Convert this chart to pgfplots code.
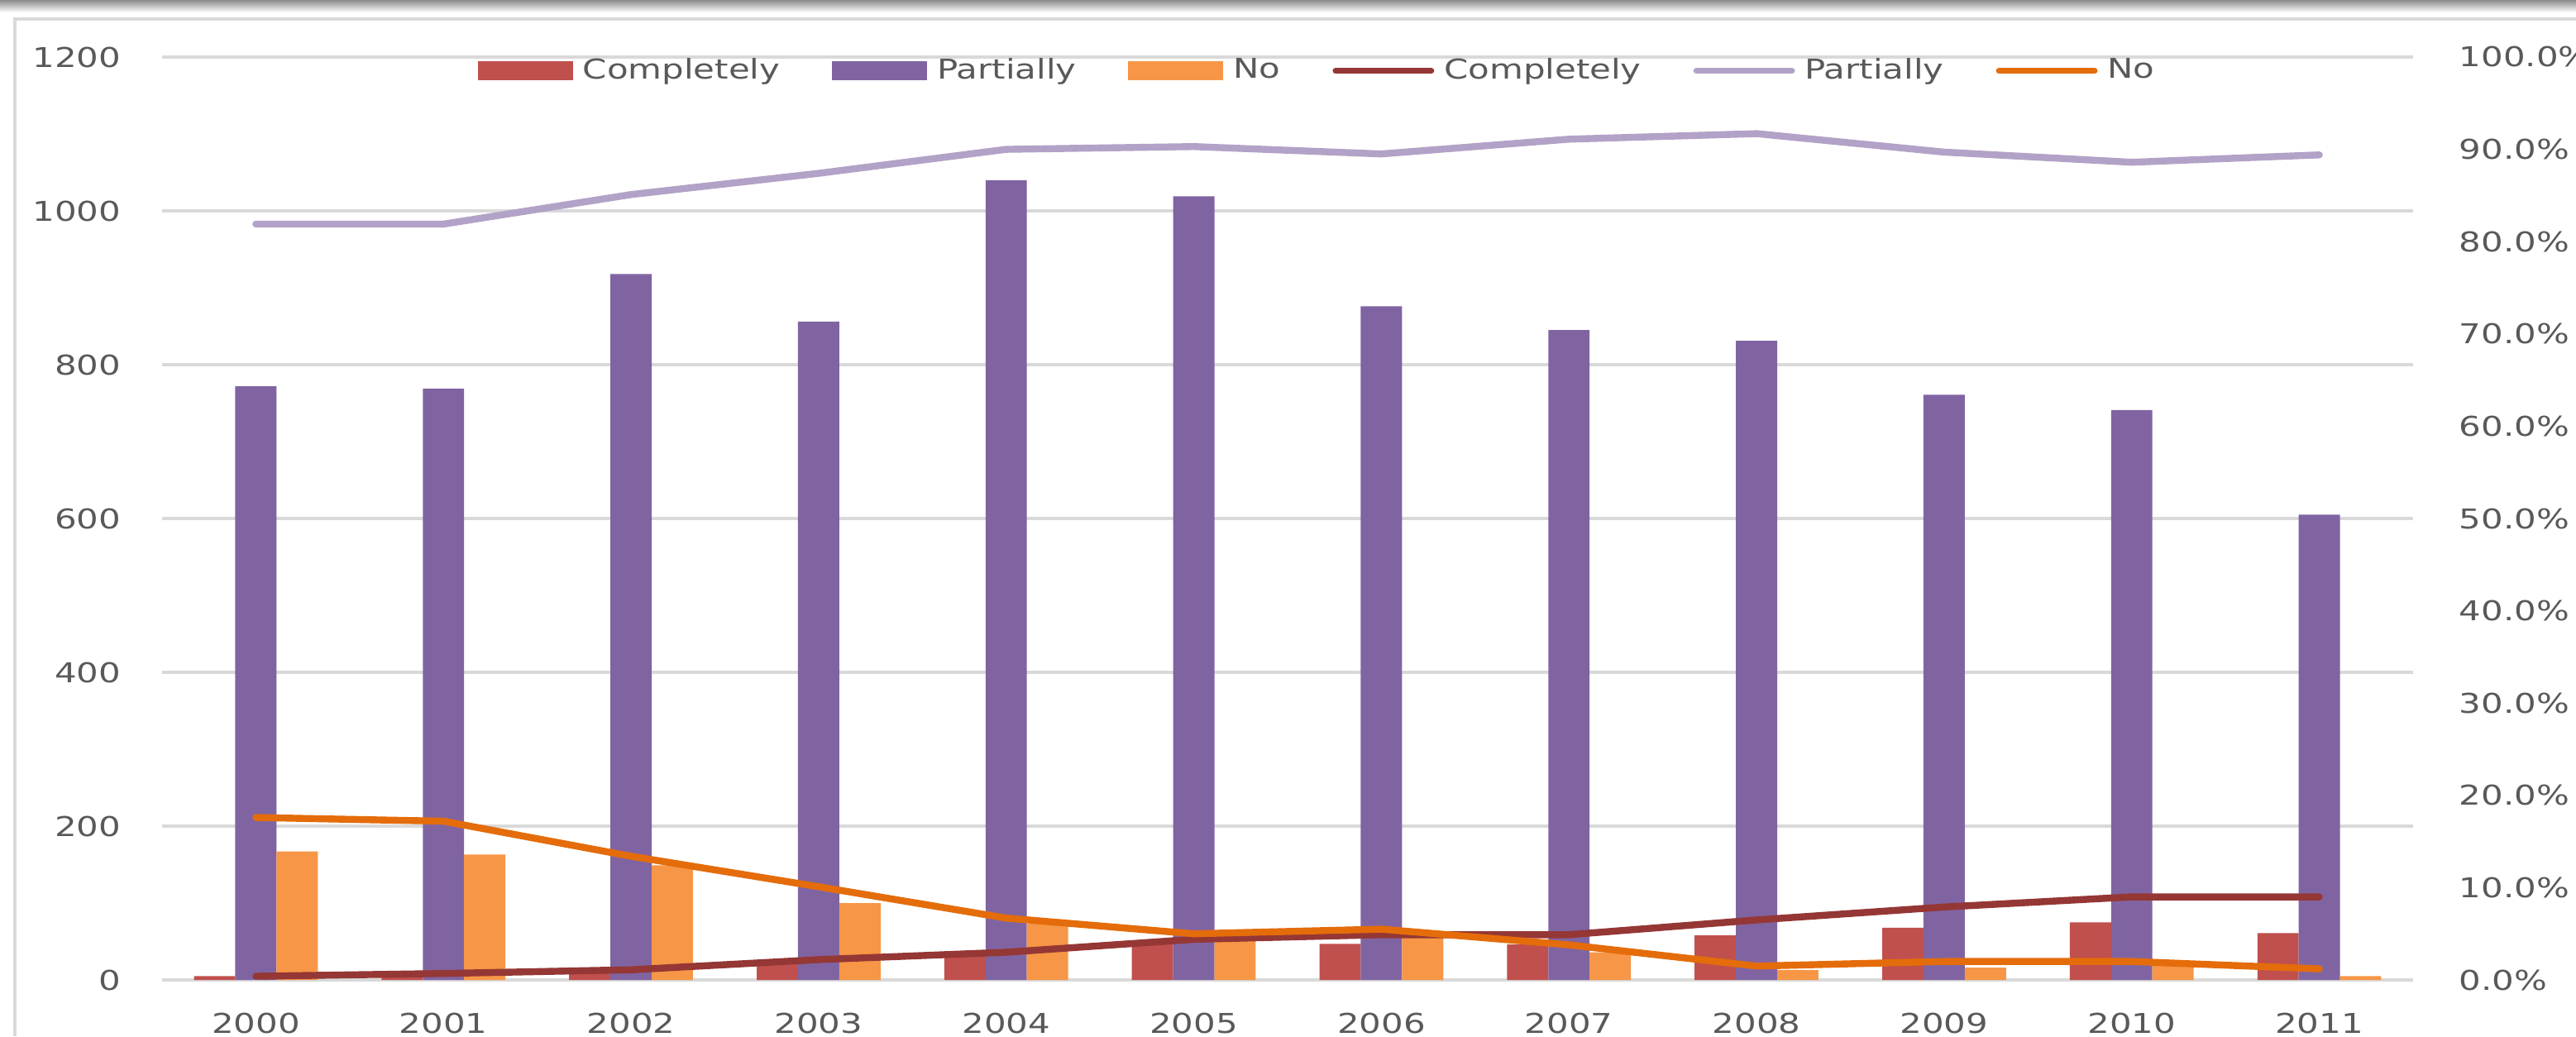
\documentclass[border=0pt]{standalone}
\usepackage{fontspec}
\setmainfont{DejaVu Sans}[FakeStretch=1.27]
\usepackage{pgfplots}
\pgfplotsset{compat=1.18}
\definecolor{cred}{HTML}{C0504D}
\definecolor{cpur}{HTML}{8064A2}
\definecolor{corg}{HTML}{F79646}
\definecolor{lred}{HTML}{953735}
\definecolor{lpur}{HTML}{B3A2C7}
\definecolor{lorg}{HTML}{E46C0A}
\definecolor{gridc}{HTML}{D9D9D9}
\definecolor{txtc}{HTML}{595959}
\pgfplotsset{
  barleg/.style={legend image code/.code={\fill[##1, draw=none] (0pt,-2.875pt) rectangle (28.75pt,2.875pt);}},
  lineleg/.style={legend image code/.code={\draw[##1, line width=1.75pt, line cap=round] (0.9pt,0pt) -- (29.85pt,0pt);}},
  common/.style={
    at={(0,0)}, anchor=south west,
    width=680.5pt, height=279pt, scale only axis,
    xmin=-0.5, xmax=11.5,
    axis line style={draw=none},
    major tick length=0pt,
    tick label style={font=\fontsize{8.25}{10}\selectfont, text=txtc, inner sep=0pt},
    /pgf/number format/assume math mode=true,
    /pgf/number format/1000 sep={},
  }
}
\begin{document}
\begin{tikzpicture}
\path[use as bounding box] (-49pt,-17pt) rectangle (729.75pt,296.25pt);
\shade[top color=black!45, bottom color=white] (-49pt,292.5pt) rectangle (729.75pt,296.25pt);
\draw[gridc, line width=1.2pt] (-44.5pt,-17pt) -- (-44.5pt,290.5pt) -- (729.75pt,290.5pt);
\begin{axis}[common,
  ymin=0, ymax=1200, ytick={0,200,...,1200},
  xtick={0,...,11},
  xticklabels={2000,2001,2002,2003,2004,2005,2006,2007,2008,2009,2010,2011},
  xticklabel style={anchor=north, yshift=-9.75pt},
  yticklabel style={anchor=east, xshift=-12.25pt},
  ymajorgrids, grid style={gridc, line width=0.8pt},
]
\addplot[ybar, bar width=0.22, bar shift=-0.22, fill=cred, draw=none] coordinates {
(0,5) (1,7) (2,12) (3,21) (4,35) (5,50) (6,47) (7,46) (8,58) (9,68) (10,75) (11,61)};
\addplot[ybar, bar width=0.22, bar shift=0, fill=cpur, draw=none] coordinates {
(0,772) (1,769) (2,918) (3,856) (4,1040) (5,1019) (6,876) (7,845) (8,831) (9,761) (10,741) (11,605)};
\addplot[ybar, bar width=0.22, bar shift=0.22, fill=corg, draw=none] coordinates {
(0,167) (1,163) (2,149) (3,100) (4,73) (5,56) (6,57) (7,36) (8,13) (9,16) (10,19) (11,5)};
\end{axis}
\begin{axis}[common,
  ymin=0, ymax=100, ytick={0,10,...,100},
  axis y line*=right, axis x line=none,
  yticklabel={\pgfmathprintnumber[fixed,fixed zerofill,precision=1]{\tick}\%},
  yticklabel style={anchor=west, xshift=13.75pt},
  legend columns=6,
  legend style={at={(0.1356,0.985)}, anchor=west, draw=none, fill=none,
    font=\fontsize{8.25}{10}\selectfont, text=txtc,
    nodes={inner sep=0pt},
    /tikz/every odd column/.append style={column sep=3pt},
    /tikz/every even column/.append style={column sep=15.75pt}},
]
\addlegendimage{barleg, fill=cred}
\addlegendentry{Completely}
\addlegendimage{barleg, fill=cpur}
\addlegendentry{Partially}
\addlegendimage{barleg, fill=corg}
\addlegendentry{No}
\addplot[lineleg, lred, line width=2.1pt, line cap=round, line join=round] coordinates {
(0,0.4) (1,0.7) (2,1.1) (3,2.2) (4,3.0) (5,4.4) (6,4.9) (7,4.9) (8,6.5) (9,7.9) (10,9.0) (11,9.0)};
\addlegendentry{Completely}
\addplot[lineleg, lpur, line width=2.1pt, line cap=round, line join=round] coordinates {
(0,81.9) (1,81.9) (2,85.1) (3,87.4) (4,90.0) (5,90.3) (6,89.5) (7,91.1) (8,91.7) (9,89.7) (10,88.6) (11,89.4)};
\addlegendentry{Partially}
\addplot[lineleg, lorg, line width=2.1pt, line cap=round, line join=round] coordinates {
(0,17.6) (1,17.2) (2,13.4) (3,10.1) (4,6.7) (5,5.0) (6,5.5) (7,3.8) (8,1.5) (9,2.0) (10,2.0) (11,1.2)};
\addlegendentry{No}
\end{axis}
\end{tikzpicture}
\end{document}
